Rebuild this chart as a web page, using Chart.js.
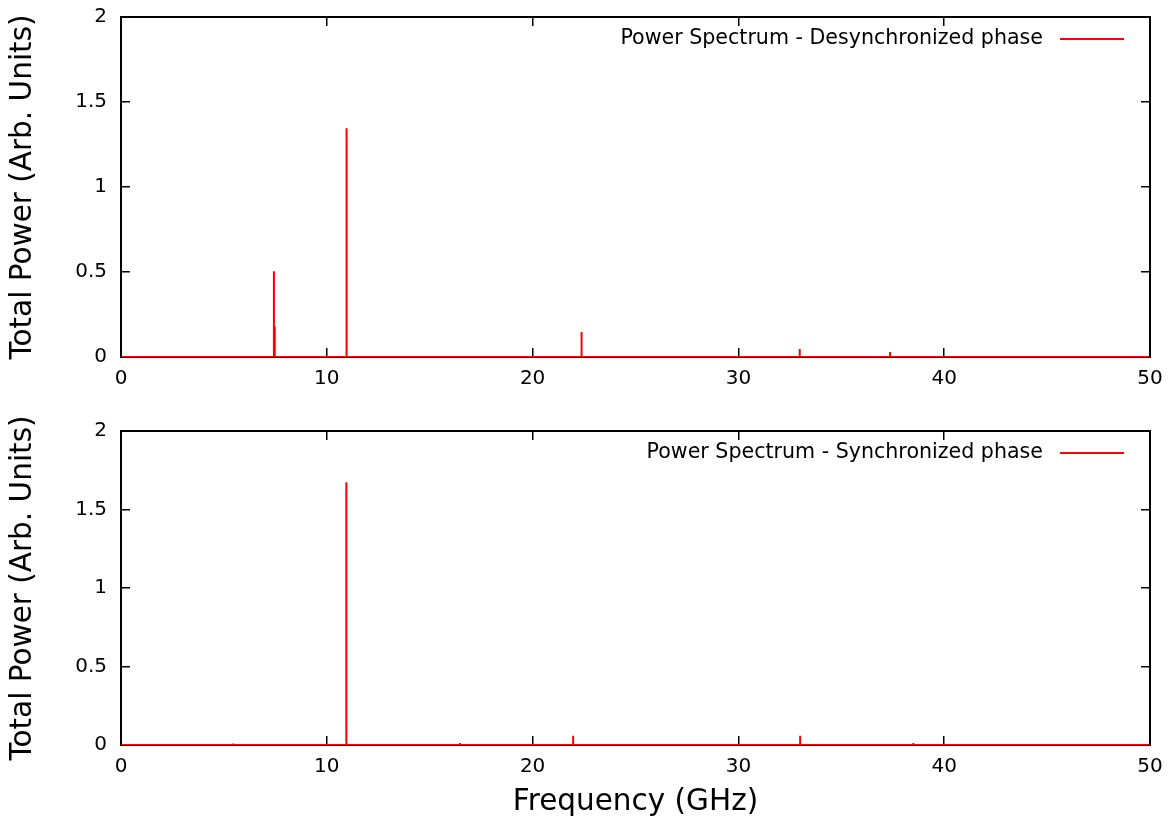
<!DOCTYPE html>
<html><head><meta charset="utf-8">
<script src="https://cdn.jsdelivr.net/npm/chart.js@4.4.1/dist/chart.umd.min.js"></script>
<style>
html,body{margin:0;padding:0;background:#fff;width:1173px;height:821px;overflow:hidden}
.wrap{position:absolute;left:0;width:1173px}
#w1{top:0;height:400px}
#w2{top:400px;height:421px}
canvas{display:block}
</style></head><body>
<div class="wrap" id="w1"><canvas id="c1" width="1173" height="400"></canvas></div>
<div class="wrap" id="w2"><canvas id="c2" width="1173" height="421"></canvas></div>
<script>
// ---- data ----
const xTicks = [0, 10, 20, 30, 40, 50];
const xTickLabels = ['0', '10', '20', '30', '40', '50'];
const yTicks = [0, 0.5, 1, 1.5, 2];
const yTickLabels = ['0', '0.5', '1', '1.5', '2'];

const desyncFreq  = [7.43, 7.47, 10.96, 22.38, 32.98, 37.37];
const desyncPower = [0.505, 0.18, 1.345, 0.147, 0.047, 0.03];

const syncFreq  = [5.45, 10.95, 16.47, 21.97, 27.5, 33.0, 38.5];
const syncPower = [0.01, 1.673, 0.012, 0.059, 0.005, 0.059, 0.012];

const seriesLabels = ['Power Spectrum - Desynchronized phase', 'Power Spectrum - Synchronized phase'];
const yTitle = 'Total Power (Arb. Units)';
const xTitle = 'Frequency (GHz)';

// ---- build spectrum line points (baseline + vertical spikes) ----
function spectrumPoints(freqs, powers) {
  const pts = [{x: xTicks[0], y: 0}];
  freqs.forEach((f, i) => {
    pts.push({x: f, y: 0});
    pts.push({x: f, y: powers[i]});
    pts.push({x: f, y: 0});
  });
  pts.push({x: xTicks[xTicks.length - 1], y: 0});
  return pts;
}

const FONT = 'DejaVu Sans';
const RED = '#ff0000';

const insideLegend = {
  id: 'insideLegend',
  afterDraw(chart) {
    const {ctx, chartArea} = chart;
    const ds = chart.data.datasets[0];
    const y = chartArea.top + 22;
    ctx.save();
    ctx.font = '20.6px "' + FONT + '"';
    ctx.fillStyle = '#000';
    ctx.textAlign = 'right';
    ctx.textBaseline = 'middle';
    ctx.fillText(ds.label, chartArea.right - 107, y);
    ctx.strokeStyle = ds.borderColor;
    ctx.lineWidth = 2;
    ctx.beginPath();
    ctx.moveTo(chartArea.right - 90, y);
    ctx.lineTo(chartArea.right - 26, y);
    ctx.stroke();
    ctx.restore();
  }
};

function gridOpts() {
  return {drawOnChartArea: false, drawTicks: true, tickLength: -9, color: '#000', lineWidth: 1.5};
}
function borderOpts() {
  return {display: true, color: '#000', width: 2};
}
function noPad(s) {
  s.paddingTop = 0; s.paddingBottom = 0; s.paddingLeft = 0; s.paddingRight = 0;
}

function makeChart(id, freqs, powers, label, padTop, xHeight, showXTitle) {
  return new Chart(document.getElementById(id), {
    type: 'scatter',
    data: {
      datasets: [{
        label: label,
        data: spectrumPoints(freqs, powers),
        showLine: true,
        borderColor: RED,
        backgroundColor: RED,
        borderWidth: 2,
        pointRadius: 0,
        pointHoverRadius: 0,
        borderJoinStyle: 'bevel',
        tension: 0
      }]
    },
    options: {
      responsive: false,
      animation: false,
      devicePixelRatio: 1,
      layout: {padding: {top: padTop, right: 23, left: 0, bottom: 0}},
      plugins: {legend: {display: false}, tooltip: {enabled: false}},
      scales: {
        x: {
          type: 'linear', position: 'bottom', min: 0, max: 50, z: 1,
          afterBuildTicks: s => { s.ticks = xTicks.map(v => ({value: v})); },
          ticks: {
            padding: 19, color: '#000', maxRotation: 0, autoSkip: false,
            font: {family: FONT, size: 20},
            callback: v => xTickLabels[xTicks.indexOf(v)]
          },
          grid: gridOpts(), border: borderOpts(),
          title: {display: showXTitle, text: xTitle, color: '#000',
                  font: {family: FONT, size: 29.5}, padding: {top: 0, bottom: 1}},
          afterFit: s => { s.height = xHeight; noPad(s); }
        },
        x2: {
          type: 'linear', position: 'top', min: 0, max: 50, z: 1,
          afterBuildTicks: s => { s.ticks = xTicks.map(v => ({value: v})); },
          ticks: {display: false},
          grid: gridOpts(), border: borderOpts(),
          afterFit: s => { s.height = 0; noPad(s); }
        },
        y: {
          type: 'linear', position: 'left', min: 0, max: 2, z: 1,
          afterBuildTicks: s => { s.ticks = yTicks.map(v => ({value: v})); },
          ticks: {
            padding: 23, color: '#000',
            font: {family: FONT, size: 20},
            callback: v => yTickLabels[yTicks.indexOf(v)]
          },
          grid: gridOpts(), border: borderOpts(),
          title: {display: true, text: yTitle, color: '#000',
                  font: {family: FONT, size: 29.5}, padding: {top: 6, bottom: 0}},
          afterFit: s => { s.width = 121; noPad(s); }
        },
        y2: {
          type: 'linear', position: 'right', min: 0, max: 2, z: 1,
          afterBuildTicks: s => { s.ticks = yTicks.map(v => ({value: v})); },
          ticks: {display: false},
          grid: gridOpts(), border: borderOpts(),
          afterFit: s => { s.width = 0; noPad(s); }
        }
      }
    },
    plugins: [insideLegend]
  });
}

makeChart('c1', desyncFreq, desyncPower, seriesLabels[0], 17, 43, false);
makeChart('c2', syncFreq, syncPower, seriesLabels[1], 31, 76, true);
</script>
</body></html>
